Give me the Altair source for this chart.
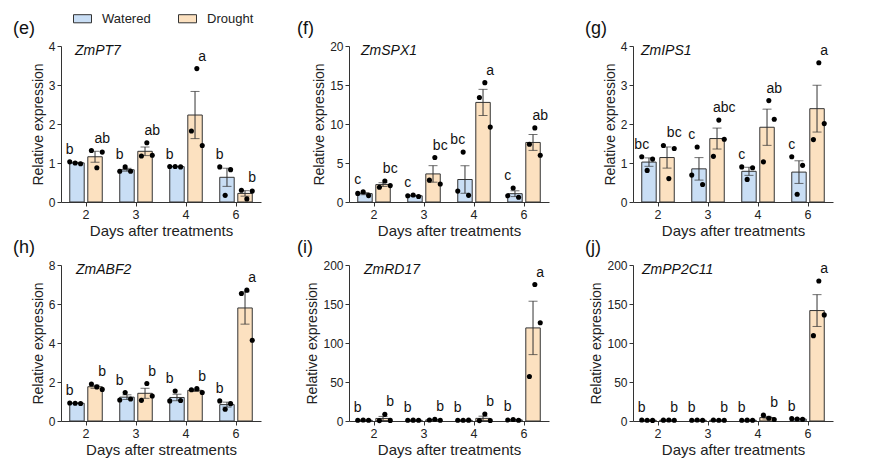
import altair as alt
import pandas as pd

days = ["2", "3", "4", "6"]
treatments = ["Watered", "Drought"]
genes = ["ZmPT7", "ZmSPX1", "ZmIPS1", "ZmABF2", "ZmRD17", "ZmPP2C11"]
panel_labels = ["(e)", "(f)", "(g)", "(h)", "(i)", "(j)"]
x_titles = ["Days after treatments", "Days after treatments", "Days after treatments",
            "Days after streatments", "Days after treatments", "Days after treatments"]
y_max = [4, 20, 4, 8, 200, 200]
y_ticks = [[0, 1, 2, 3, 4], [0, 5, 10, 15, 20], [0, 1, 2, 3, 4],
           [0, 2, 4, 6, 8], [0, 50, 100, 150, 200], [0, 50, 100, 150, 200]]

# replicate values (3 per bar), per day 2, 3, 4, 6
pt7_w = [[1.03, 1.0, 0.98], [0.79, 0.9, 0.79], [0.91, 0.91, 0.9], [0.9, 0.17, 0.83]]
pt7_d = [[1.32, 0.88, 1.28], [1.18, 1.52, 1.2], [1.82, 3.42, 1.45], [0.3, 0.08, 0.28]]
spx1_w = [[1.1, 1.3, 0.82], [0.8, 0.9, 0.7], [1.4, 6.4, 0.85], [0.8, 1.8, 0.6]]
spx1_d = [[1.9, 2.7, 2.1], [2.8, 5.7, 2.3], [13.4, 15.3, 9.6], [7.4, 9.5, 6.0]]
ips1_w = [[1.16, 0.81, 1.1], [0.69, 1.41, 0.45], [0.9, 0.58, 0.88], [1.16, 0.2, 0.94]]
ips1_d = [[1.45, 0.6, 1.37], [1.17, 2.1, 1.61], [1.03, 2.6, 2.12], [1.6, 3.57, 2.01]]
abf2_w = [[0.92, 0.91, 0.9], [1.08, 1.46, 1.13], [1.03, 1.54, 1.05], [1.03, 0.6, 0.89]]
abf2_d = [[1.9, 1.75, 1.62], [1.06, 1.92, 1.28], [1.6, 1.66, 1.46], [6.54, 6.71, 4.14]]
rd17_w = [[1.0, 1.2, 0.9], [1.0, 1.1, 0.9], [0.9, 1.0, 1.1], [1.3, 2.0, 1.0]]
rd17_d = [[0.5, 8.5, 0.8], [1.2, 2.2, 1.0], [0.5, 9.0, 0.6], [57.0, 175.0, 126.0]]
pp2c11_w = [[1.2, 1.0, 0.8], [1.0, 1.2, 0.9], [0.9, 1.1, 1.0], [3.0, 2.5, 2.2]]
pp2c11_d = [[1.1, 1.3, 0.9], [1.2, 1.0, 0.9], [7.5, 3.5, 2.0], [109.4, 179.4, 136.0]]

watered = [pt7_w, spx1_w, ips1_w, abf2_w, rd17_w, pp2c11_w]
drought = [pt7_d, spx1_d, ips1_d, abf2_d, rd17_d, pp2c11_d]

letters_w = [["b", "b", "b", "b"], ["c", "c", "bc", "c"], ["bc", "c", "c", "c"],
             ["b", "b", "b", "b"], ["b", "b", "b", "b"], ["b", "b", "b", "b"]]
letters_d = [["ab", "ab", "a", "b"], ["bc", "bc", "a", "ab"], ["bc", "abc", "ab", "a"],
             ["b", "b", "b", "a"], ["b", "b", "b", "a"], ["b", "b", "b", "a"]]

BLUE = "#c9def5"
ORANGE = "#fce1c0"
DARK = "#333333"
FONT = "Liberation Sans"

# replicate slots across a day group: three under each bar, one empty slot between bars
slots = ["Watered0", "Watered1", "Watered2", "gap", "Drought0", "Drought1", "Drought2"]
gene_dx = [14, 12, 8, 15, 15, 9]
title_dx = [-48, -52, -48, -48, -52, -48]


def make_panel(i):
    rows = []
    for di, d in enumerate(days):
        for t, vals, lets in (("Watered", watered[i][di], letters_w[i][di]),
                              ("Drought", drought[i][di], letters_d[i][di])):
            for r, v in enumerate(vals):
                rows.append({"day": d, "treat": t, "slot": f"{t}{r}", "v": v, "letter": lets})
    df = pd.DataFrame(rows)

    ysc = alt.Scale(domain=[0, y_max[i]], nice=False, zero=True)

    def Y(field):
        return alt.Y(field, scale=ysc, title="Relative expression",
                     axis=alt.Axis(values=y_ticks[i], grid=False, labelOverlap=False,
                                   title="Relative expression"))

    x = alt.X("day:N", sort=days, title=x_titles[i],
              scale=alt.Scale(paddingInner=0.35, paddingOuter=0.175),
              axis=alt.Axis(labelAngle=0, grid=False, title=x_titles[i]))
    xoff = alt.XOffset("treat:N", sort=treatments,
                       scale=alt.Scale(domain=treatments, paddingInner=0.2, paddingOuter=0))

    base = alt.Chart(df)

    bars = base.mark_bar(stroke=DARK, strokeWidth=1).encode(
        x=x,
        xOffset=xoff,
        y=Y("mean(v):Q"),
        color=alt.Color("treat:N", sort=treatments,
                        scale=alt.Scale(domain=treatments, range=[BLUE, ORANGE]),
                        legend=alt.Legend(
                            orient="none", legendX=12, legendY=-37, direction="horizontal",
                            title=None, symbolType="M-1,-0.45L1,-0.45L1,0.45L-1,0.45Z",
                            symbolSize=324, symbolStrokeColor=DARK, symbolStrokeWidth=1,
                            labelFontSize=13, labelFont=FONT, labelColor="#222",
                            labelOffset=10, columnPadding=25)),
    )

    stats = base.transform_aggregate(
        m="mean(v)", se="stderr(v)", groupby=["day", "treat"]
    ).transform_calculate(lo="datum.m - datum.se", hi="datum.m + datum.se")

    err = stats.mark_rule(color=DARK, strokeWidth=1).encode(
        x=x, xOffset=xoff, y=Y("lo:Q"), y2="hi:Q",
    )
    cap_hi = stats.mark_tick(color=DARK, thickness=1, size=9).encode(
        x=x, xOffset=xoff, y=Y("hi:Q"))
    cap_lo = stats.mark_tick(color=DARK, thickness=1, size=9).encode(
        x=x, xOffset=xoff, y=Y("lo:Q"))

    pts = base.mark_circle(size=26, color="black", opacity=1).encode(
        x=x,
        xOffset=alt.XOffset("slot:N", sort=slots,
                            scale=alt.Scale(domain=slots, paddingInner=0, paddingOuter=0)),
        y=Y("v:Q"),
    )

    lett = base.transform_aggregate(
        top="max(v)", groupby=["day", "treat", "letter"]
    ).mark_text(fontSize=14, font=FONT, color="#111", baseline="alphabetic", dy=-8).encode(
        x=x, xOffset=xoff, y=Y("top:Q"), text="letter:N",
    )

    gene = alt.Chart(pd.DataFrame({"g": [genes[i]]})).mark_text(
        fontSize=14, font=FONT, fontStyle="italic", align="left", baseline="alphabetic",
        color="#111").encode(text="g:N", x=alt.value(gene_dx[i]), y=alt.value(9))

    layer = alt.layer(bars, err, cap_hi, cap_lo, pts, lett, gene).resolve_scale(
        xOffset="independent"
    ).properties(
        width=200, height=156,
        title=alt.TitleParams(panel_labels[i], anchor="start", frame="group",
                              dx=title_dx[i], offset=2, fontSize=18, fontWeight="normal",
                              font=FONT, color="#111"),
    )
    return layer


panels = [make_panel(i) for i in range(6)]

chart = alt.concat(*panels, columns=3, spacing={"row": 0, "column": 36}).configure_view(
    stroke=None
).configure_axis(
    domainColor=DARK, tickColor=DARK, domainWidth=1, tickWidth=1, tickSize=4,
    labelFont=FONT, labelFontSize=12, labelColor="#222", labelPadding=2,
    titleFont=FONT, titleColor="#222", titleFontWeight="normal",
).configure_axisY(titleFontSize=14, titlePadding=3).configure_axisX(
    titleFontSize=15, titlePadding=3, labelFontSize=12.5
).properties(
    background="white", padding={"left": 5, "top": 1, "right": 5, "bottom": 5}
)

chart.save("out.html", embed_options={"renderer": "svg", "actions": False})
